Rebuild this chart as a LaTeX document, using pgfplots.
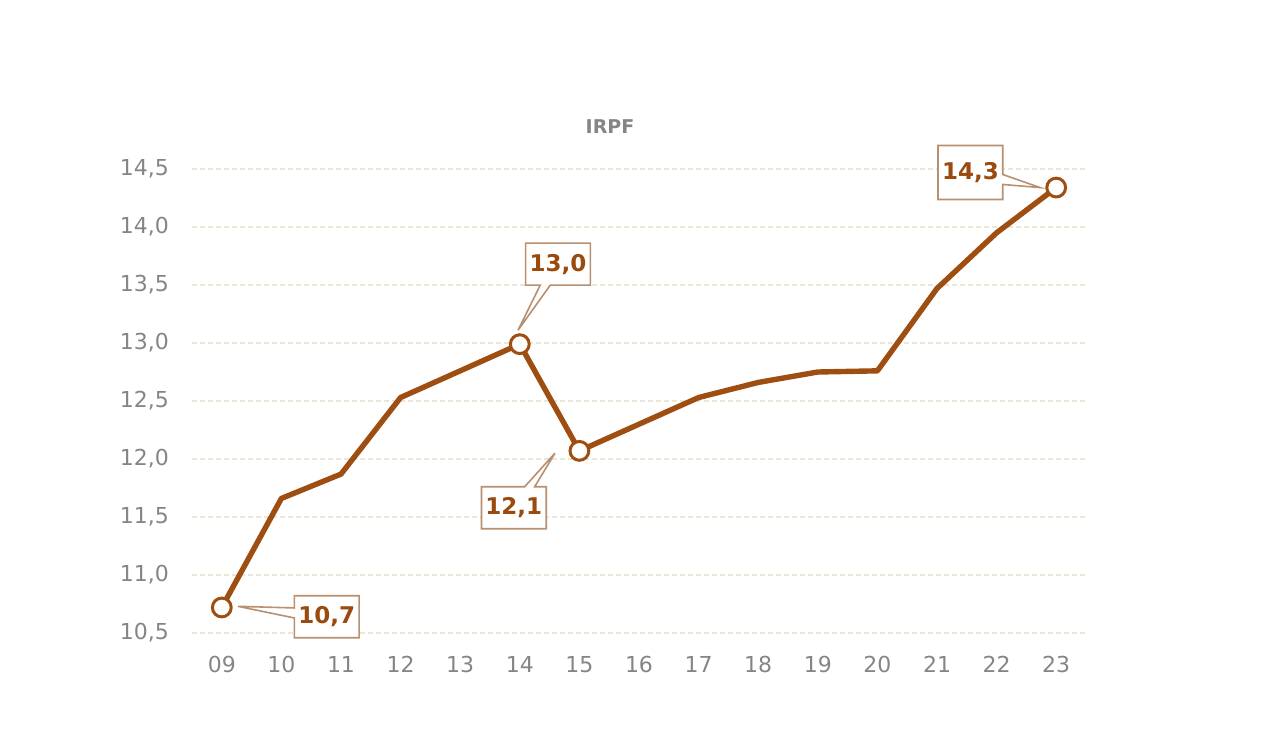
\documentclass[border=0pt]{standalone}
\usepackage{fontspec}
\setmainfont{DejaVu Sans}
\usepackage{pgfplots}
\pgfplotsset{compat=1.18}
\usetikzlibrary{shapes.callouts}
\definecolor{linebrown}{HTML}{9E4E10}
\definecolor{textbrown}{HTML}{9A4A0C}
\definecolor{boxborder}{HTML}{B89070}
\definecolor{gridc}{HTML}{EAE6D8}
\definecolor{tickgray}{HTML}{858585}
\begin{document}
\begin{tikzpicture}
\path (0pt,0pt) rectangle (640pt,377.5pt);
\begin{axis}[
  at={(96pt,61pt)}, anchor=south west,
  scale only axis, width=447pt, height=232pt,
  xmin=8.5, xmax=23.5, ymin=10.5, ymax=14.5,
  axis line style={draw=none},
  tick style={draw=none},
  xtick={9,...,23},
  xticklabels={09,10,11,12,13,14,15,16,17,18,19,20,21,22,23},
  ytick={10.5,11,...,14.5},
  y tick label style={/pgf/number format/.cd,use comma,fixed,fixed zerofill,precision=1,/tikz/.cd, xshift=-8pt},
  /pgf/number format/assume math mode=true,
  ticklabel style={font=\fontsize{11}{13}\selectfont, text=tickgray},
  x tick label style={yshift=-8pt},
  ymajorgrids, grid style={gridc, dash pattern=on 2.5pt off 1.5pt, line width=0.8pt},
  title={\textbf{IRPF}}, title style={font=\fontsize{9.5}{11}\selectfont, text=tickgray, yshift=8pt, xshift=-14.5pt},
  clip=false,
]
\addplot[linebrown, line width=2.7pt, line join=round] coordinates {
(9,10.72) (10,11.66) (11,11.87) (12,12.53) (13,12.76) (14,12.99) (15,12.07) (16,12.30) (17,12.53) (18,12.66) (19,12.75) (20,12.76) (21,13.47) (22,13.95) (23,14.34)};
\addplot[only marks, mark=*, mark size=4.7pt, mark options={fill=white, draw=linebrown, line width=1.5pt}] coordinates {
(9,10.72) (14,12.99) (15,12.07) (23,14.34)};
\tikzset{co/.style={rectangle callout, draw=boxborder, fill=white, line width=0.8pt, text=textbrown, font=\fontsize{11.5}{13}\selectfont\bfseries, minimum width=31pt, minimum height=21pt, inner sep=2pt, callout pointer width=5pt}}
\node[co, callout absolute pointer={(axis cs:13.97,13.11)}] at (axis cs:14.64,13.68) {13,0};
\node[co, callout absolute pointer={(axis cs:14.59,12.05)}] at (axis cs:13.90,11.58) {12,1};
\node[co, callout absolute pointer={(axis cs:9.27,10.73)}] at (axis cs:10.76,10.64) {10,7};
\node[co, callout absolute pointer={(axis cs:22.73,14.34)}, minimum height=27pt] at (axis cs:21.56,14.47) {14,3};
\end{axis}
\end{tikzpicture}
\end{document}
